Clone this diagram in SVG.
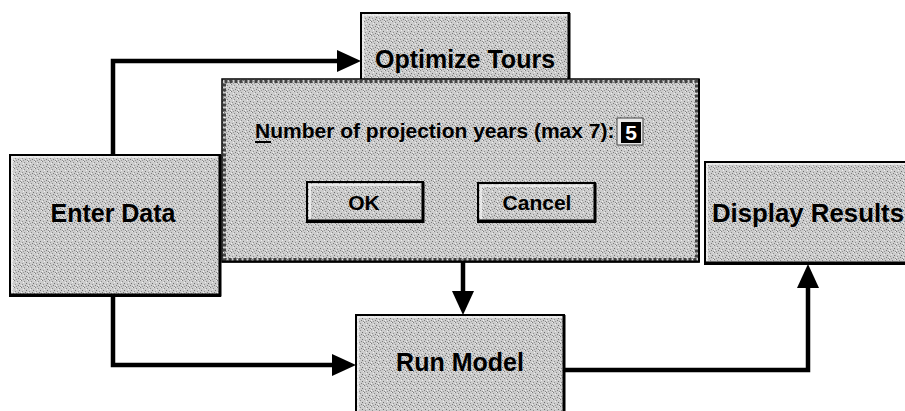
<svg xmlns="http://www.w3.org/2000/svg" width="905" height="411" viewBox="0 0 905 411">
<style>
  .lbl { font-family: "Liberation Sans", Arial, sans-serif; font-weight: bold; fill: #000; }
  .big { font-size: 25px; }
  .dlg { font-size: 21px; }
  .edge { stroke: #000; stroke-width: 2; fill: none; }
  .shadow { stroke: #000; stroke-width: 3; fill: none; }
  .hi { stroke: #f4f4f4; stroke-width: 1.5; fill: none; }
  .conn { stroke: #000; stroke-width: 4.5; fill: none; stroke-linejoin: miter; }
</style>
<defs>
  <pattern id="dither" width="7" height="7" patternUnits="userSpaceOnUse">
    <rect width="7" height="7" fill="#cccccc"/>
    <rect x="0" y="0" width="1" height="1" fill="#7a7a7a"/>
    <rect x="3" y="1" width="1" height="1" fill="#8a8a8a"/>
    <rect x="5" y="3" width="1" height="1" fill="#6e6e6e"/>
    <rect x="1" y="4" width="1" height="1" fill="#909090"/>
    <rect x="4" y="5" width="1" height="1" fill="#7a7a7a"/>
    <rect x="6" y="6" width="1" height="1" fill="#8a8a8a"/>
    <rect x="2" y="6" width="1" height="1" fill="#999999"/>
    <rect x="2" y="2" width="1" height="1" fill="#f0f0f0"/>
    <rect x="6" y="0" width="1" height="1" fill="#f0f0f0"/>
    <rect x="0" y="5" width="1" height="1" fill="#f0f0f0"/>
  </pattern>
  <marker id="arrow" markerUnits="userSpaceOnUse" markerWidth="24" markerHeight="22" refX="0" refY="11" orient="auto">
    <path d="M0,0 L24,11 L0,22 Z" fill="#000"/>
  </marker>
</defs>

<g id="connectors">
  <path class="conn" d="M113,155 L113,61 L337,61" marker-end="url(#arrow)"/>
  <path class="conn" d="M113,296 L113,365 L332,365" marker-end="url(#arrow)"/>
  <path class="conn" d="M463,262 L463,291" marker-end="url(#arrow)"/>
  <path class="conn" d="M565,370 L808,370 L808,288" marker-end="url(#arrow)"/>
</g>

<g id="optimize-tours">
  <rect x="361" y="13" width="209" height="85" fill="url(#dither)"/>
  <path class="hi" d="M363,97 L363,15 L568,15"/>
  <path class="edge" d="M361,98 L361,13 L570,13"/>
  <path class="shadow" d="M569,13 L569,98"/>
  <text class="lbl big" x="465" y="68" text-anchor="middle">Optimize Tours</text>
</g>

<g id="enter-data">
  <rect x="10" y="155" width="210" height="141" fill="url(#dither)"/>
  <path class="hi" d="M12,293 L12,157 L217,157"/>
  <rect class="edge" x="10" y="155" width="210" height="141"/>
  <path class="shadow" d="M10,295 L220,295 L220,155"/>
  <text class="lbl big" x="113" y="222" text-anchor="middle">Enter Data</text>
</g>

<g id="display-results">
  <rect x="705" y="162" width="210" height="102" fill="url(#dither)"/>
  <path class="hi" d="M707,261 L707,164 L910,164"/>
  <rect class="edge" x="705" y="162" width="210" height="102"/>
  <path class="shadow" d="M705,263 L915,263"/>
  <text class="lbl big" x="712" y="222" textLength="192" lengthAdjust="spacingAndGlyphs">Display Results</text>
</g>

<g id="run-model">
  <rect x="356" y="315" width="209" height="110" fill="url(#dither)"/>
  <path class="hi" d="M358,420 L358,317 L562,317"/>
  <path class="edge" d="M356,420 L356,315 L565,315"/>
  <path class="shadow" d="M564,315 L564,420"/>
  <text class="lbl big" x="460" y="371" text-anchor="middle">Run Model</text>
</g>

<g id="dialog">
  <rect x="222" y="79" width="477" height="183" fill="url(#dither)"/>
  <rect x="224.5" y="81.5" width="472" height="178" fill="none" stroke="#444" stroke-width="3" stroke-dasharray="3 2"/>
  <rect x="222" y="79" width="477" height="183" fill="none" stroke="#000" stroke-width="1.5"/>
  <path d="M222,261.5 L699,261.5 L699,79" fill="none" stroke="#000" stroke-width="2"/>
  <text class="lbl dlg" x="255" y="138">Number of projection years (max 7):</text>
  <line x1="255" y1="142" x2="271" y2="142" stroke="#000" stroke-width="2"/>
  <g id="year-input">
    <rect x="617" y="118" width="26" height="27" fill="#e8e8e8" stroke="#444" stroke-width="1"/>
    <rect x="621" y="122" width="20" height="21" fill="#000"/>
    <text class="dlg" x="631" y="140" text-anchor="middle" font-family="Liberation Sans, Arial, sans-serif" font-weight="bold" fill="#fff">5</text>
  </g>
  <g id="ok-button">
    <rect x="307" y="182" width="116" height="40" fill="url(#dither)"/>
    <path class="hi" d="M310,219 L310,185 L420,185"/>
    <rect class="edge" x="307" y="182" width="116" height="40"/>
    <path class="shadow" d="M307,221 L423,221 L423,182"/>
    <text class="lbl dlg" x="364" y="210" text-anchor="middle">OK</text>
  </g>
  <g id="cancel-button">
    <rect x="478" y="183" width="117" height="39" fill="url(#dither)"/>
    <path class="hi" d="M481,219 L481,186 L592,186"/>
    <rect class="edge" x="478" y="183" width="117" height="39"/>
    <path class="shadow" d="M478,221 L595,221 L595,183"/>
    <text class="lbl dlg" x="537" y="210" text-anchor="middle">Cancel</text>
  </g>
</g>
</svg>
